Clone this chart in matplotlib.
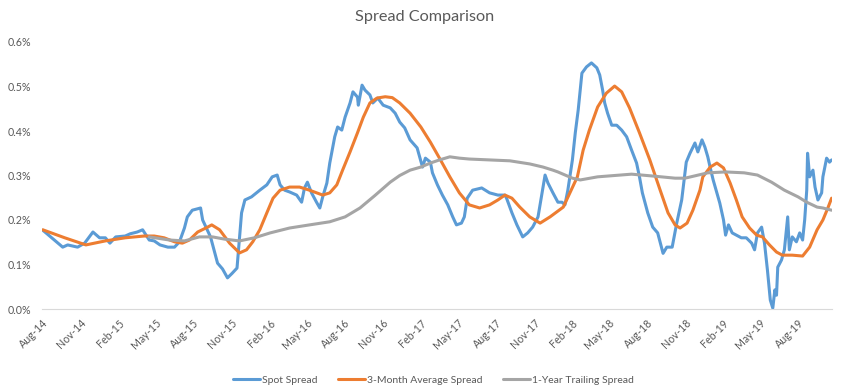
import pandas as pd
import matplotlib
matplotlib.use("Agg")
import matplotlib.pyplot as plt
import matplotlib.dates as mdates
from matplotlib.ticker import FuncFormatter

plt.rcParams['font.family'] = ['Lato', 'DejaVu Sans']

# Spot spread (%)
spot_dates = [
    "2014-08-03", "2014-09-20", "2014-10-02", "2014-10-26", "2014-11-12", "2014-12-02",
    "2014-12-18", "2015-01-01", "2015-01-12", "2015-01-26", "2015-02-18", "2015-03-02",
    "2015-03-19", "2015-04-01", "2015-04-17", "2015-04-29", "2015-05-13", "2015-06-01",
    "2015-06-17", "2015-06-29", "2015-07-11", "2015-07-18", "2015-07-30", "2015-08-19",
    "2015-08-24", "2015-09-12", "2015-09-29", "2015-10-11", "2015-10-23", "2015-11-03",
    "2015-11-15", "2015-11-26", "2015-12-04", "2015-12-20", "2016-01-09", "2016-01-26",
    "2016-02-08", "2016-02-20", "2016-02-27", "2016-03-09", "2016-03-21", "2016-04-07",
    "2016-04-19", "2016-04-26", "2016-05-03", "2016-05-13", "2016-05-25", "2016-06-02",
    "2016-06-09", "2016-06-19", "2016-06-26", "2016-07-08", "2016-07-15", "2016-07-25",
    "2016-08-02", "2016-08-14", "2016-08-21", "2016-09-01", "2016-09-03", "2016-09-12",
    "2016-09-19", "2016-10-01", "2016-10-08", "2016-10-20", "2016-11-02", "2016-11-19",
    "2016-12-01", "2016-12-12", "2016-12-24", "2017-01-06", "2017-01-23", "2017-02-05",
    "2017-02-12", "2017-02-24", "2017-03-01", "2017-03-13", "2017-03-25", "2017-04-07",
    "2017-04-19", "2017-04-28", "2017-05-10", "2017-05-17", "2017-05-24", "2017-06-06",
    "2017-06-28", "2017-07-17", "2017-08-06", "2017-08-23", "2017-08-27", "2017-09-09",
    "2017-09-21", "2017-10-05", "2017-10-17", "2017-10-29", "2017-11-11", "2017-11-28",
    "2017-12-05", "2017-12-17", "2017-12-29", "2018-01-08", "2018-01-15", "2018-01-22",
    "2018-02-02", "2018-02-09", "2018-02-16", "2018-02-25", "2018-03-08", "2018-03-20",
    "2018-04-02", "2018-04-09", "2018-04-16", "2018-04-21", "2018-04-28", "2018-05-08",
    "2018-05-20", "2018-06-01", "2018-06-13", "2018-06-25", "2018-07-07", "2018-07-14",
    "2018-07-21", "2018-08-03", "2018-08-15", "2018-08-27", "2018-09-09", "2018-09-18",
    "2018-10-01", "2018-10-12", "2018-10-24", "2018-11-04", "2018-11-13", "2018-11-25",
    "2018-12-02", "2018-12-12", "2018-12-19", "2018-12-26", "2019-01-01", "2019-01-08",
    "2019-01-17", "2019-01-24", "2019-02-02", "2019-02-07", "2019-02-14", "2019-02-23",
    "2019-03-05", "2019-03-17", "2019-03-29", "2019-04-11", "2019-04-18", "2019-04-25",
    "2019-05-05", "2019-05-12", "2019-05-19", "2019-05-26", "2019-06-01", "2019-06-06",
    "2019-06-10", "2019-06-13", "2019-06-22", "2019-06-29", "2019-07-07", "2019-07-11",
    "2019-07-18", "2019-07-28", "2019-08-05", "2019-08-12", "2019-08-17", "2019-08-22",
    "2019-08-24", "2019-08-29", "2019-09-06", "2019-09-11", "2019-09-18", "2019-09-27",
    "2019-09-30", "2019-10-09", "2019-10-16", "2019-10-21",
]
spot = [
    0.177, 0.139, 0.144, 0.139, 0.148, 0.173,
    0.160, 0.160, 0.148, 0.162, 0.164, 0.169,
    0.173, 0.178, 0.155, 0.153, 0.144, 0.139,
    0.139, 0.151, 0.182, 0.207, 0.222, 0.227,
    0.200, 0.162, 0.103, 0.090, 0.070, 0.080,
    0.092, 0.216, 0.245, 0.252, 0.267, 0.279,
    0.297, 0.301, 0.279, 0.267, 0.263, 0.256,
    0.240, 0.272, 0.285, 0.261, 0.240, 0.227,
    0.252, 0.283, 0.328, 0.387, 0.409, 0.402,
    0.431, 0.463, 0.488, 0.476, 0.458, 0.503,
    0.492, 0.481, 0.463, 0.474, 0.458, 0.452,
    0.440, 0.420, 0.407, 0.380, 0.362, 0.319,
    0.339, 0.330, 0.306, 0.279, 0.256, 0.234,
    0.207, 0.189, 0.193, 0.207, 0.249, 0.267,
    0.272, 0.261, 0.256, 0.256, 0.249, 0.216,
    0.189, 0.162, 0.171, 0.184, 0.207, 0.301,
    0.283, 0.261, 0.240, 0.240, 0.234, 0.267,
    0.335, 0.396, 0.447, 0.530, 0.544, 0.553,
    0.542, 0.526, 0.492, 0.463, 0.440, 0.413,
    0.413, 0.402, 0.387, 0.357, 0.328, 0.297,
    0.261, 0.216, 0.184, 0.171, 0.125, 0.139,
    0.139, 0.193, 0.245, 0.330, 0.350, 0.373,
    0.353, 0.380, 0.364, 0.342, 0.317, 0.290,
    0.261, 0.238, 0.200, 0.166, 0.189, 0.171,
    0.166, 0.160, 0.160, 0.148, 0.133, 0.171,
    0.184, 0.148, 0.088, 0.020, 0.002, 0.043,
    0.031, 0.094, 0.110, 0.133, 0.207, 0.133,
    0.162, 0.151, 0.171, 0.155, 0.200, 0.267,
    0.350, 0.297, 0.312, 0.274, 0.245, 0.261,
    0.297, 0.339, 0.330, 0.335,
]

# 3-month average spread (%)
avg3m_dates = [
    "2014-08-03", "2014-09-25", "2014-11-15", "2015-01-01", "2015-02-18", "2015-04-05",
    "2015-04-29", "2015-05-23", "2015-06-17", "2015-07-06", "2015-07-23", "2015-08-12",
    "2015-09-05", "2015-09-15", "2015-10-04", "2015-10-28", "2015-11-21", "2015-12-08",
    "2015-12-23", "2016-01-09", "2016-01-26", "2016-02-10", "2016-02-27", "2016-03-21",
    "2016-04-14", "2016-05-08", "2016-06-09", "2016-06-26", "2016-07-13", "2016-07-27",
    "2016-08-14", "2016-09-01", "2016-09-15", "2016-10-01", "2016-10-18", "2016-11-07",
    "2016-11-24", "2016-12-12", "2017-01-06", "2017-02-01", "2017-02-24", "2017-03-18",
    "2017-04-12", "2017-05-05", "2017-05-29", "2017-06-23", "2017-07-17", "2017-08-06",
    "2017-08-23", "2017-09-09", "2017-09-28", "2017-10-22", "2017-11-16", "2017-12-10",
    "2018-01-11", "2018-01-27", "2018-02-14", "2018-02-28", "2018-03-15", "2018-04-04",
    "2018-04-25", "2018-05-15", "2018-06-01", "2018-06-20", "2018-07-14", "2018-08-08",
    "2018-09-02", "2018-09-21", "2018-10-08", "2018-10-20", "2018-11-06", "2018-11-20",
    "2018-12-07", "2018-12-14", "2019-01-01", "2019-01-17", "2019-02-02", "2019-02-18",
    "2019-03-05", "2019-03-19", "2019-04-06", "2019-04-23", "2019-05-07", "2019-05-24",
    "2019-06-10", "2019-06-24", "2019-07-18", "2019-08-12", "2019-08-29", "2019-09-16",
    "2019-09-30", "2019-10-12", "2019-10-21",
]
avg3m = [
    0.178, 0.160, 0.144, 0.153, 0.160, 0.164,
    0.164, 0.160, 0.151, 0.148, 0.155, 0.173,
    0.184, 0.189, 0.178, 0.148, 0.126, 0.133,
    0.151, 0.178, 0.216, 0.249, 0.267, 0.274,
    0.274, 0.267, 0.256, 0.261, 0.279, 0.312,
    0.353, 0.396, 0.431, 0.463, 0.474, 0.477,
    0.475, 0.463, 0.440, 0.409, 0.375, 0.339,
    0.297, 0.261, 0.234, 0.227, 0.234, 0.245,
    0.256, 0.249, 0.229, 0.207, 0.193, 0.207,
    0.229, 0.261, 0.297, 0.357, 0.402, 0.454,
    0.485, 0.501, 0.488, 0.452, 0.396, 0.335,
    0.267, 0.216, 0.189, 0.182, 0.193, 0.222,
    0.267, 0.297, 0.319, 0.328, 0.317, 0.283,
    0.245, 0.207, 0.182, 0.166, 0.162, 0.144,
    0.128, 0.121, 0.121, 0.119, 0.139, 0.178,
    0.200, 0.227, 0.249,
]

# 1-year trailing spread (%)
trail_dates = [
    "2015-04-17", "2015-06-05", "2015-07-11", "2015-08-16", "2015-09-17", "2015-10-16",
    "2015-11-21", "2015-12-27", "2016-02-03", "2016-03-21", "2016-05-08", "2016-06-26",
    "2016-08-02", "2016-09-07", "2016-10-13", "2016-11-19", "2016-12-12", "2017-01-06",
    "2017-02-01", "2017-02-24", "2017-03-18", "2017-04-12", "2017-05-05", "2017-05-29",
    "2017-07-17", "2017-09-04", "2017-10-22", "2017-11-23", "2017-12-17", "2017-12-29",
    "2018-02-02", "2018-02-21", "2018-04-04", "2018-06-25", "2018-08-13", "2018-10-08",
    "2018-11-01", "2018-12-26", "2019-02-07", "2019-03-24", "2019-04-25", "2019-05-29",
    "2019-06-29", "2019-08-01", "2019-08-22", "2019-09-16", "2019-09-30", "2019-10-21",
]
trail = [
    0.162, 0.155, 0.153, 0.162, 0.162, 0.157,
    0.153, 0.160, 0.171, 0.182, 0.189, 0.196,
    0.207, 0.227, 0.255, 0.285, 0.300, 0.312,
    0.319, 0.328, 0.335, 0.342, 0.339, 0.337,
    0.335, 0.333, 0.326, 0.319, 0.312, 0.308,
    0.294, 0.290, 0.297, 0.303, 0.299, 0.294,
    0.294, 0.306, 0.308, 0.306, 0.301, 0.285,
    0.267, 0.252, 0.240, 0.229, 0.227, 0.222,
]

series = [
    (spot_dates, spot, "Spot Spread", "#5B9BD5"),
    (avg3m_dates, avg3m, "3-Month Average Spread", "#ED7D31"),
    (trail_dates, trail, "1-Year Trailing Spread", "#A5A5A5"),
]

fig = plt.figure(figsize=(8.5, 3.92), dpi=100)
ax = fig.add_axes([42 / 850, 1 - 309 / 392, 790 / 850, 267 / 392])

for d, v, name, color in series:
    ax.plot(pd.to_datetime(d), v, color=color, lw=2.2, label=name,
            solid_joinstyle="round", solid_capstyle="round")

ax.set_xlim(pd.Timestamp("2014-08-01"), pd.Timestamp("2019-10-22"))
ax.set_ylim(0, 0.6)
ax.set_yticks([0, 0.1, 0.2, 0.3, 0.4, 0.5, 0.6])
ax.yaxis.set_major_formatter(FuncFormatter(lambda y, _: f"{y:.1f}%"))

ax.xaxis.set_major_locator(mdates.MonthLocator(bymonth=[2, 5, 8, 11]))
ax.xaxis.set_major_formatter(mdates.DateFormatter("%b-%y"))
for lab in ax.get_xticklabels():
    lab.set_rotation(45)
    lab.set_ha("right")
    lab.set_rotation_mode("anchor")

ax.tick_params(axis="both", length=0, labelsize=7.7, labelcolor="#595959")
ax.tick_params(axis="y", pad=8)
ax.tick_params(axis="x", pad=6)
for side in ["top", "right", "left"]:
    ax.spines[side].set_visible(False)
ax.spines["bottom"].set_color("#D9D9D9")
ax.spines["bottom"].set_linewidth(0.8)

fig.suptitle("Spread Comparison", x=0.5, y=1 - 17 / 392, va="center",
             fontsize=11.7, color="#595959")

fig.legend(loc="center", bbox_to_anchor=(0.51, 1 - 380 / 392), ncol=3,
           frameon=False, fontsize=7.5, handlelength=2.6, handletextpad=0.15,
           columnspacing=2.0, labelcolor="#595959")

fig.savefig("out.png", dpi=100)
